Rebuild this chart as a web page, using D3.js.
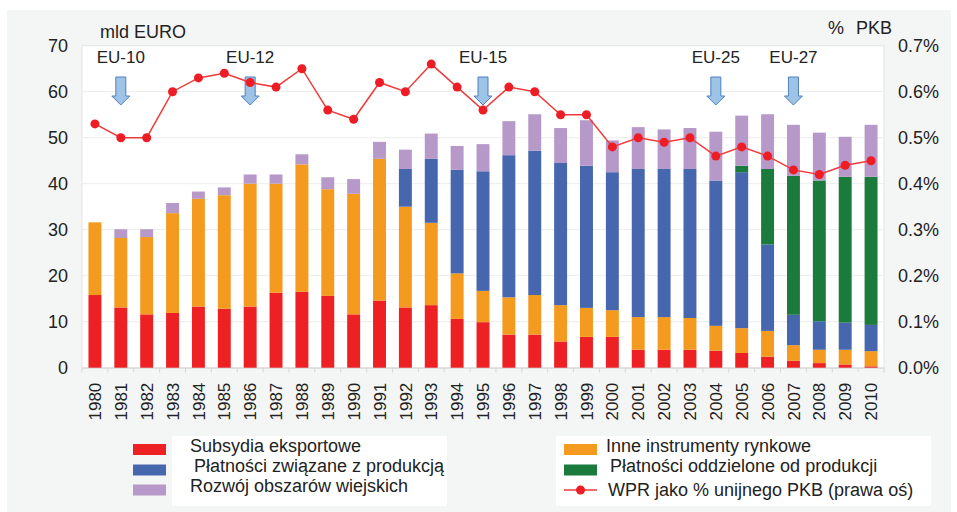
<!DOCTYPE html>
<html>
<head>
<meta charset="utf-8">
<script src="https://d3js.org/d3.v7.min.js"></script>
<style>
  body { margin: 0; background: #fff; }
  text { font-family: "Liberation Sans", Arial, sans-serif; fill: #222; }
</style>
</head>
<body>
<svg width="957" height="512"></svg>
<script>
// years on the x axis
var years = d3.range(1980, 2011).map(String);

// segments in mld EURO, bottom to top
var subsydia = [15.8,13.1,11.6,11.9,13.3,12.8,13.3,16.3,16.5,15.6,11.6,14.6,13.1,13.6,10.6,9.9,7.2,7.2,5.7,6.7,6.7,3.9,3.9,3.9,3.7,3.2,2.4,1.5,1.0,0.7,0.3];
var inne     = [15.8,15.1,16.8,21.7,23.4,24.7,26.7,23.7,27.7,23.2,26.2,30.8,21.9,17.9,9.9,6.8,8.1,8.6,7.9,6.3,5.8,7.1,7.1,6.9,5.4,5.4,5.6,3.4,2.9,3.2,3.3];
var zwiazane = [0,0,0,0,0,0,0,0,0,0,0,0,8.2,13.9,22.5,26.0,30.9,31.4,30.9,30.9,30.0,32.2,32.2,32.4,31.6,33.9,18.8,6.6,6.2,5.9,5.7];
var oddzielone = [0,0,0,0,0,0,0,0,0,0,0,0,0,0,0,0,0,0,0,0,0,0,0,0,0,1.4,16.4,30.2,30.6,31.7,32.2];
var rozwoj   = [0,1.9,1.7,2.2,1.6,1.7,2.0,2.0,2.2,2.6,3.2,3.7,4.2,5.5,5.2,5.9,7.4,7.9,7.6,9.9,6.9,9.1,8.6,8.9,10.6,10.9,11.9,11.1,10.4,8.7,11.3];

// WPR as % of EU GDP (right axis)
var wprPkb = [0.53,0.50,0.50,0.60,0.63,0.64,0.62,0.61,0.65,0.56,0.54,0.62,0.60,0.66,0.61,0.56,0.61,0.60,0.55,0.55,0.48,0.50,0.49,0.50,0.46,0.48,0.46,0.43,0.42,0.44,0.45];

// enlargement markers
var enlargements = [["EU-10","1981"],["EU-12","1986"],["EU-15","1995"],["EU-25","2004"],["EU-27","2007"]];

var leftTicks = [0,10,20,30,40,50,60,70];
var rightTicks = [0,0.1,0.2,0.3,0.4,0.5,0.6,0.7];

var keys = ["subsydia","inne","zwiazane","oddzielone","rozwoj"];
var colors = {subsydia:"#ed2024", inne:"#f39a1f", zwiazane:"#4666ae", oddzielone:"#1b7b3d", rozwoj:"#b799c9"};
var labels = {subsydia:"Subsydia eksportowe", inne:"Inne instrumenty rynkowe", zwiazane:"Płatności związane z produkcją",
              oddzielone:"Płatności oddzielone od produkcji", rozwoj:"Rozwój obszarów wiejskich"};

var table = years.map(function(yr, i) {
  return {year: yr, subsydia: subsydia[i], inne: inne[i], zwiazane: zwiazane[i], oddzielone: oddzielone[i], rozwoj: rozwoj[i], pkb: wprPkb[i]};
});

var svg = d3.select("svg");
var plotL = 82, plotR = 884, plotT = 45.7, plotB = 367.7;

// backgrounds
svg.append("rect").attr("x", 7).attr("y", 10).attr("width", 944).attr("height", 502).attr("fill", "#f4f6f6");
svg.append("rect").attr("x", 172).attr("y", 436).attr("width", 275).attr("height", 70).attr("fill", "#fff");
svg.append("rect").attr("x", 556).attr("y", 436).attr("width", 375).attr("height", 70).attr("fill", "#fff");
svg.append("rect").attr("x", plotL).attr("y", plotT).attr("width", plotR - plotL).attr("height", plotB - plotT)
  .attr("fill", "#fff").attr("stroke", "#e3e3e3");

var x = d3.scaleBand().domain(years).range([plotL, plotR]).paddingInner(0.5).paddingOuter(0.25);
var y = d3.scaleLinear().domain([0, 70]).range([plotB, plotT]);
var y2 = d3.scaleLinear().domain([0, 0.7]).range([plotB, plotT]);

// gridlines
svg.append("g").selectAll("line").data(leftTicks.slice(1, -1)).enter().append("line")
  .attr("x1", plotL).attr("x2", plotR).attr("y1", d => y(d)).attr("y2", d => y(d))
  .attr("stroke", "#ececec");

// left axis
var ya = svg.append("g").attr("transform", "translate(" + (plotL - 14) + ",0)")
  .call(d3.axisLeft(y).tickValues(leftTicks).tickSize(0).tickPadding(0));
ya.select(".domain").remove();
ya.selectAll("text").attr("font-size", "18px").style("fill", "#222");

// right axis
var yb = svg.append("g").attr("transform", "translate(" + (plotR + 14) + ",0)")
  .call(d3.axisRight(y2).tickValues(rightTicks).tickSize(0).tickPadding(0).tickFormat(d => d.toFixed(1) + "%"));
yb.select(".domain").remove();
yb.selectAll("text").attr("font-size", "18px").style("fill", "#222");

// x axis: ticks between bands, rotated labels
var xa = svg.append("g").attr("transform", "translate(0," + plotB + ")")
  .call(d3.axisBottom(x).tickSize(0).tickPadding(0));
xa.select(".domain").attr("stroke", "#d6d6d6");
xa.selectAll("text")
  .attr("transform", "rotate(-90)")
  .attr("text-anchor", "end")
  .attr("x", -15).attr("y", 0).attr("dy", "0.36em")
  .attr("font-size", "17px").style("fill", "#222");
svg.append("g").selectAll("line").data(years.concat(["end"])).enter().append("line")
  .attr("x1", (d, i) => plotL + i * x.step()).attr("x2", (d, i) => plotL + i * x.step())
  .attr("y1", plotB).attr("y2", plotB + 5).attr("stroke", "#d6d6d6");

// stacked bars
var series = d3.stack().keys(keys)(table);
svg.append("g").selectAll("g").data(series).enter().append("g")
  .attr("fill", d => colors[d.key])
  .selectAll("rect").data(d => d).enter().append("rect")
  .attr("x", d => x(d.data.year))
  .attr("width", x.bandwidth())
  .attr("y", d => y(d[1]))
  .attr("height", d => y(d[0]) - y(d[1]));

// enlargement arrows
var arr = svg.append("g").selectAll("g").data(enlargements).enter().append("g")
  .attr("transform", d => "translate(" + (x(d[1]) + x.bandwidth() / 2) + ",0)");
arr.append("text").attr("y", 63).attr("text-anchor", "middle").attr("font-size", "17px").text(d => d[0]);
arr.append("path")
  .attr("d", "M-5,77 L5,77 L5,96 L9,96 L0,105 L-9,96 L-5,96 Z")
  .attr("fill", "#9dc3e6").attr("stroke", "#4f7fc0").attr("stroke-width", 1);

// WPR line
var line = d3.line().x(d => x(d.year) + x.bandwidth() / 2).y(d => y2(d.pkb));
svg.append("path").datum(table).attr("d", line)
  .attr("fill", "none").attr("stroke", "#f03a3a").attr("stroke-width", 1.5);
svg.append("g").selectAll("circle").data(table).enter().append("circle")
  .attr("cx", d => x(d.year) + x.bandwidth() / 2).attr("cy", d => y2(d.pkb))
  .attr("r", 4.5).attr("fill", "#ee1c25");

// axis titles
svg.append("text").attr("x", 100).attr("y", 38).attr("font-size", "18px").text("mld EURO");
svg.append("text").attr("x", 828).attr("y", 34).attr("font-size", "18px").text("%");
svg.append("text").attr("x", 856).attr("y", 34).attr("font-size", "18px").text("PKB");

// legend
var legendItems = [
  {key: "subsydia", x: 133, y: 449.5},
  {key: "zwiazane", x: 133, y: 470},
  {key: "rozwoj", x: 133, y: 490},
  {key: "inne", x: 564, y: 449.5},
  {key: "oddzielone", x: 564, y: 470}
];
var lg = svg.append("g").selectAll("g").data(legendItems).enter().append("g");
lg.append("rect").attr("x", d => d.x).attr("y", d => d.y - 5.5).attr("width", 33).attr("height", 11)
  .attr("fill", d => colors[d.key]);
lg.append("text").attr("x", d => d.x + (d.x > 300 ? 42 : 57) + (d.key == "oddzielone" || d.key == "zwiazane" ? 4 : 0))
  .attr("y", d => d.y + 2).attr("font-size", "18px").text(d => labels[d.key]);

svg.append("line").attr("x1", 564).attr("x2", 597).attr("y1", 490).attr("y2", 490)
  .attr("stroke", "#f03a3a").attr("stroke-width", 1.5);
svg.append("circle").attr("cx", 580.5).attr("cy", 490).attr("r", 4.5).attr("fill", "#ee1c25");
svg.append("text").attr("x", 608).attr("y", 496).attr("font-size", "18px").text("WPR jako % unijnego PKB (prawa oś)");
</script>
</body>
</html>
